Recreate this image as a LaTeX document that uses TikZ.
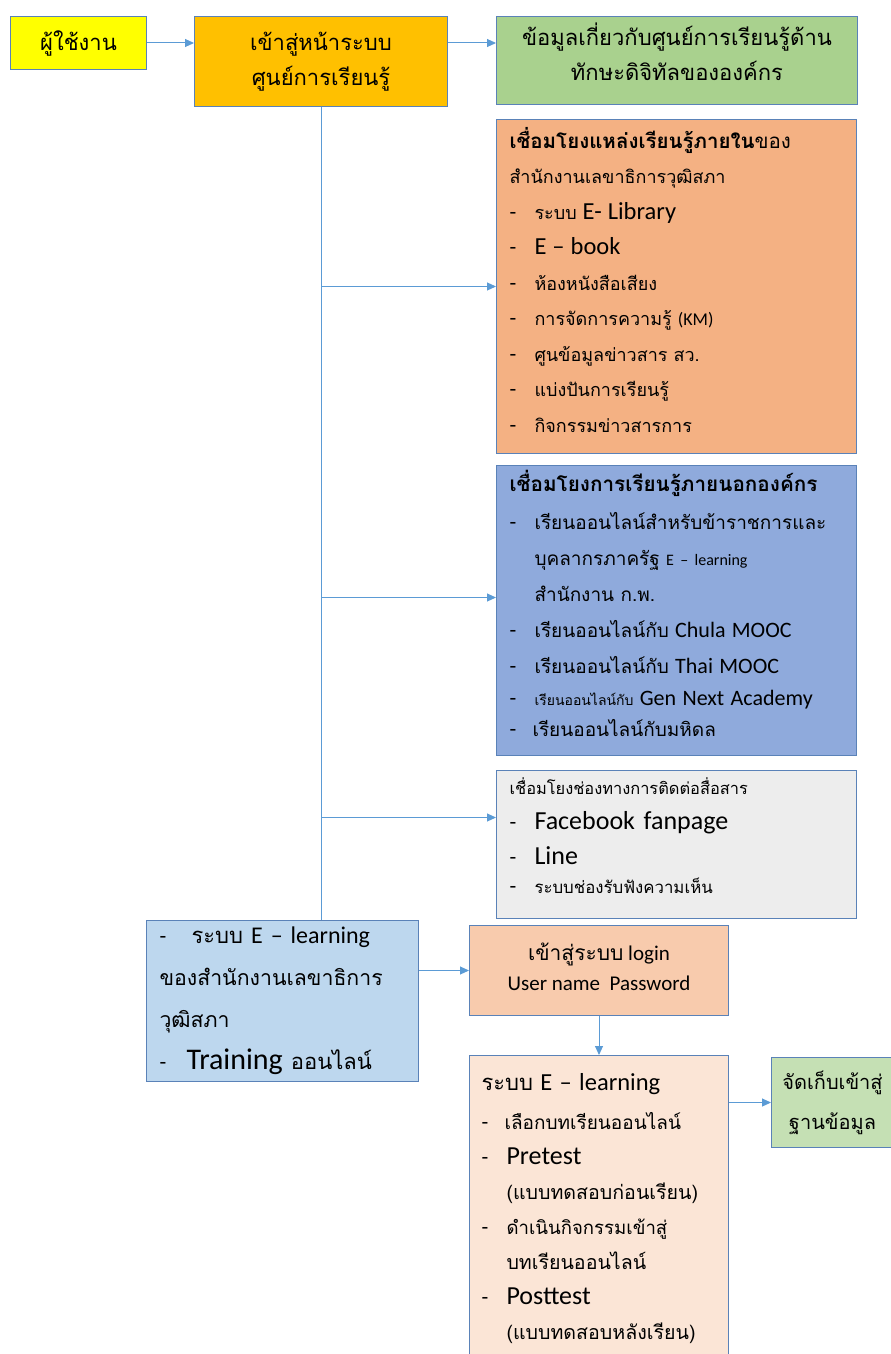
\documentclass[tikz,border=0pt]{standalone}
\usepackage{fontspec}
\setmainfont{Carlito}
\newfontfamily\thaifont[Script=Thai]{Loma}
\newcommand{\tha}[1]{{\thaifont #1}}
\newcommand{\fsz}[1]{\fontsize{#1}{35}\selectfont}
\newcommand{\itm}[1][25pt]{\makebox[#1][l]{\fsz{22}-}}
\usepackage{tikz}
\usetikzlibrary{arrows.meta, positioning, calc}

\definecolor{userfill}{HTML}{FFFF00}
\definecolor{entryfill}{HTML}{FFC000}
\definecolor{infofill}{HTML}{A9D18E}
\definecolor{innerfill}{HTML}{F4B183}
\definecolor{outerfill}{HTML}{8FAADC}
\definecolor{contactfill}{HTML}{EDEDED}
\definecolor{lmsfill}{HTML}{BDD7EE}
\definecolor{loginfill}{HTML}{F8CBAD}
\definecolor{elearnfill}{HTML}{FBE5D6}
\definecolor{storefill}{HTML}{C5E0B4}
\definecolor{boxline}{HTML}{5A82B8}
\definecolor{linkline}{HTML}{5B9BD5}

\begin{document}
\begin{tikzpicture}[
    x=1pt, y=1pt,
    % Styles
    box/.style={draw=boxline, line width=1pt, inner sep=0pt, font=\fontsize{22}{35}\selectfont},
    titlebox/.style={box, align=center},
    listbox/.style={box, align=left, anchor=north west, inner xsep=13pt},
    link/.style={draw=linkline, line width=1pt},
    arr/.style={link, -{Triangle[length=9pt, width=8pt]}},
    node distance=14pt
]
    \useasboundingbox (0,0) rectangle (891,-1354);

    % User and entry page
    \node[titlebox, fill=userfill, minimum width=136pt, minimum height=53pt, anchor=north west] (user) at (10,-16) {\tha{ผู้ใช้งาน}};
    \node[titlebox, fill=entryfill, minimum width=253pt, minimum height=90pt, right=47pt of user.north east, anchor=north west] (entry) {\tha{เข้าสู่หน้าระบบ}\\\tha{ศูนย์การเรียนรู้}};

    % Info about the centre
    \node[titlebox, fill=infofill, minimum width=361pt, minimum height=88pt, right=48pt of entry.north east, anchor=north west] (info) {\tha{ข้อมูลเกี่ยวกับศูนย์การเรียนรู้ด้าน}\\\tha{ทักษะดิจิทัลขององค์กร}\rule[-18pt]{0pt}{0pt}};

    % Internal learning sources
    \node[listbox, fill=innerfill, text width=334pt, minimum height=334pt, font=\fontsize{18}{35.5}\selectfont, below=14pt of info.south west, anchor=north west] (inner) {%
        {\fsz{20.5}\thaifont\bfseries เชื่อมโยงแหล่งเรียนรู้ภายใน}{\fsz{20.5}\tha{ของ}}\\
        \tha{สำนักงานเลขาธิการวุฒิสภา}\\
        \itm\tha{ระบบ} {\fsz{24.5}E- Library}\\
        \itm{\fsz{24.5}E – book}\\
        \itm\tha{ห้องหนังสือเสียง}\\
        \itm\tha{การจัดการความรู้} (KM)\\
        \itm\tha{ศูนข้อมูลข่าวสาร สว.}\\
        \itm\tha{แบ่งปันการเรียนรู้}\\
        \itm\tha{กิจกรรมข่าวสารการ}\rule[-14pt]{0pt}{0pt}};

    % External learning
    \node[listbox, fill=outerfill, text width=334pt, minimum height=290pt, font=\fontsize{19}{36}\selectfont, below=11pt of inner.south west, anchor=north west] (outer) {%
        {\fsz{20.7}\thaifont\bfseries เชื่อมโยงการเรียนรู้ภายนอกองค์กร}\\[2pt]
        \itm\tha{เรียนออนไลน์สำหรับข้าราชการและ}\\
        \hspace*{25pt}\tha{บุคลากรภาครัฐ} {\fsz{16}E – learning}\\
        \hspace*{25pt}\tha{สำนักงาน ก.พ.}\\
        \itm\tha{เรียนออนไลน์กับ} {\fsz{22}Chula MOOC}\\
        \itm\tha{เรียนออนไลน์กับ} {\fsz{22}Thai MOOC}\\[-4pt]
        \itm{\fsz{14}\thaifont เรียนออนไลน์กับ} {\fsz{22}Gen Next Academy}\\[-5pt]
        \itm[23pt]\tha{เรียนออนไลน์กับมหิดล}\rule[-14pt]{0pt}{0pt}};

    % Communication channels
    \node[listbox, fill=contactfill, text width=334pt, minimum height=148pt, font=\fontsize{26}{35}\selectfont, below=14pt of outer.south west, anchor=north west] (contact) {%
        {\fsz{16.4}\tha{เชื่อมโยงช่องทางการติดต่อสื่อสาร}}\\
        \itm Facebook fanpage\\
        \itm Line\\[-6pt]
        \itm{\fsz{16.8}\tha{ระบบช่องรับฟังความเห็น}}\rule[-18pt]{0pt}{0pt}};

    % E-learning of the secretariat
    \node[listbox, fill=lmsfill, text width=246pt, minimum height=161pt, font=\fontsize{24}{42}\selectfont] (lms) at (146,-920) {%
        \itm[32pt]{\fsz{22}\tha{ระบบ}} E – learning\\
        {\fsz{21.3}\tha{ของสำนักงานเลขาธิการ}}\\
        {\fsz{21.3}\tha{วุฒิสภา}}\\
        \itm[27pt]{\fsz{30}Training} {\fsz{22}\tha{ออนไลน์}}\rule[-4pt]{0pt}{0pt}};

    % Login
    \node[titlebox, fill=loginfill, minimum width=259pt, minimum height=90pt, font=\fontsize{21}{30}\selectfont, right=50pt of lms.north east, anchor=north west, yshift=-5pt] (login) {\tha{เข้าสู่ระบบ} login\\User name\ \ Password\rule[-8pt]{0pt}{0pt}};

    % E-learning steps
    \node[listbox, fill=elearnfill, text width=235pt, inner xsep=12pt, inner ysep=18pt, below=39pt of login.south west, anchor=north west] (elearn) {%
        \tha{ระบบ} {\fsz{24.5}E – learning}\\[4pt]
        \itm[23pt]{\fsz{19}\tha{เลือกบทเรียนออนไลน์}}\\
        \itm{\fsz{26}Pretest}\\
        \hspace*{25pt}{\fsz{19.6}\tha{(แบบทดสอบก่อนเรียน)}}\\
        \itm{\fsz{18.6}\tha{ดำเนินกิจกรรมเข้าสู่}}\\
        \hspace*{25pt}{\fsz{19.6}\tha{บทเรียนออนไลน์}}\\
        \itm{\fsz{26}Posttest}\\
        \hspace*{25pt}{\fsz{19.6}\tha{(แบบทดสอบหลังเรียน)}}\rule[-40pt]{0pt}{0pt}};

    % Database
    \node[titlebox, fill=storefill, minimum width=122pt, minimum height=90pt, font=\fontsize{20}{40}\selectfont, right=42pt of elearn.north east, anchor=north west, yshift=-2pt] (store) {\tha{จัดเก็บเข้าสู่}\\\tha{ฐานข้อมูล}\rule[-4pt]{0pt}{0pt}};

    % Trunk and taps
    \coordinate (tap1) at (entry.south |- inner.west);
    \coordinate (tap2) at ($(entry.south |- outer.west)+(0,13)$);
    \coordinate (tap3) at ($(entry.south |- contact.west)+(0,27)$);

    % Connectors
    \draw[arr] (user.east) -- (user.east -| entry.west);
    \draw[arr] (entry.east |- user.east) -- (info.west |- user.east);
    \draw[link] (entry.south) -- (entry.south |- lms.north);
    \draw[arr] (tap1) -- (inner.west);
    \draw[arr] (tap2) -- (tap2 -| outer.west);
    \draw[arr] (tap3) -- (tap3 -| contact.west);
    \draw[arr] (lms.east |- login.west) -- (login.west);
    \draw[arr] (login.south) -- (login.south |- elearn.north);
    \draw[arr] (elearn.east |- store.west) -- (store.west);
\end{tikzpicture}
\end{document}
